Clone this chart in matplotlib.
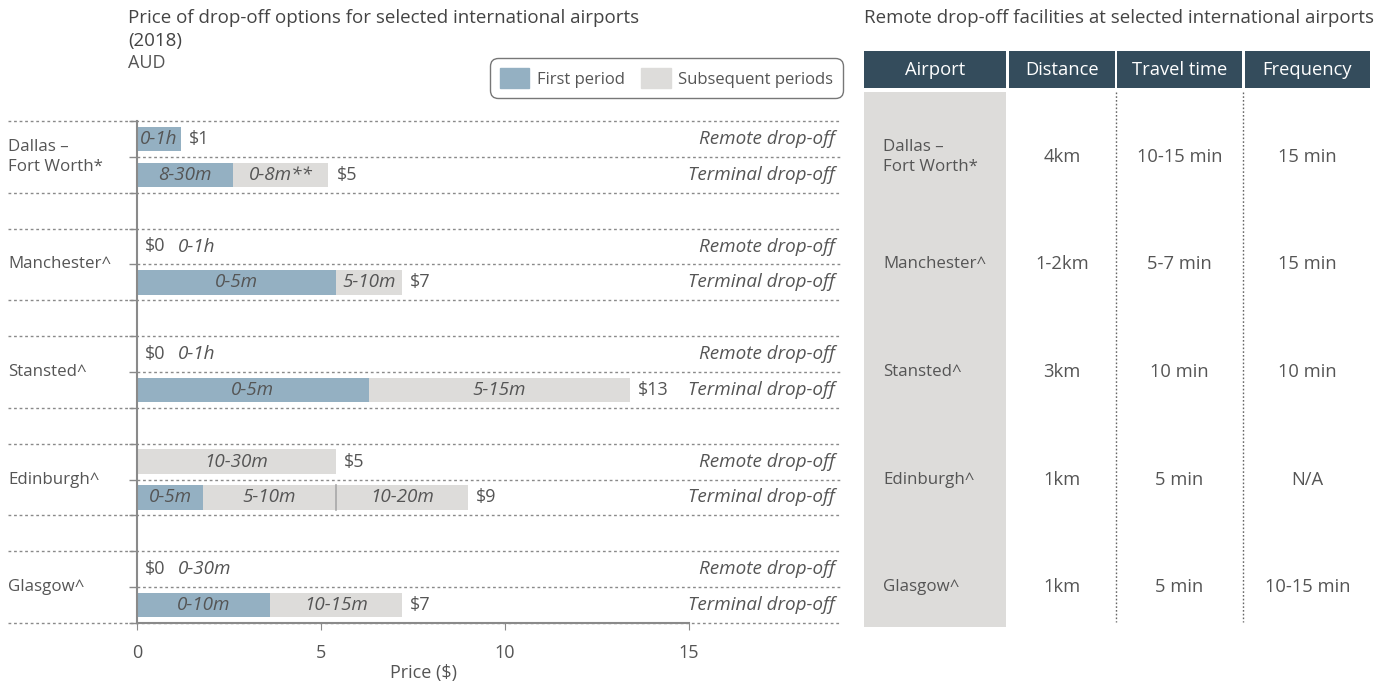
import matplotlib
matplotlib.use('Agg')
import matplotlib.pyplot as plt
import matplotlib.transforms as mtrans
from matplotlib.patches import Patch, Rectangle

plt.rcParams['font.family'] = ['Open Sans', 'DejaVu Sans']
plt.rcParams['font.size'] = 13

# Chart data (AUD)
airports = ['Dallas –\nFort Worth*', 'Manchester^', 'Stansted^', 'Edinburgh^', 'Glasgow^']

# remote drop-off bars
remote_widths = [[1.2], [], [], [5.4], []]
remote_kinds = [['first'], [], [], ['sub'], []]
remote_labels = [['0-1h'], [], [], ['10-30m'], []]
remote_free_period = [None, '0-1h', '0-1h', None, '0-30m']
remote_price = ['$1', '$0', '$0', '$5', '$0']

# terminal drop-off bars
terminal_widths = [[2.6, 2.6], [5.4, 1.8], [6.3, 7.1], [1.8, 3.6, 3.6], [3.6, 3.6]]
terminal_kinds = [['first', 'sub'], ['first', 'sub'], ['first', 'sub'],
                  ['first', 'sub', 'sub'], ['first', 'sub']]
terminal_labels = [['8-30m', '0-8m**'], ['0-5m', '5-10m'], ['0-5m', '5-15m'],
                   ['0-5m', '5-10m', '10-20m'], ['0-10m', '10-15m']]
terminal_price = ['$5', '$7', '$13', '$9', '$7']

# table data
table_cols = ['Airport', 'Distance', 'Travel time', 'Frequency']
distance = ['4km', '1-2km', '3km', '1km', '1km']
travel_time = ['10-15 min', '5-7 min', '10 min', '5 min', '5 min']
frequency = ['15 min', '15 min', '10 min', 'N/A', '10-15 min']

colors = {'first': '#94b0c2', 'sub': '#dddcda'}
txt = '#555555'
line_c = '#8a8a8a'
ital = 13.6
name_fs = 12.2

W, H = 1390, 684
fig = plt.figure(figsize=(W / 100, H / 100), dpi=100)

# main bar chart
ax = fig.add_axes([137 / W, 1 - 623 / H, (840 - 137) / W, 502 / H])
ax.set_xlim(0, 19.1)
ax.set_ylim(14, 0)

bar_h = 0.68


def draw_bar(y, widths, kinds, labels, price, free_period):
    left = 0
    for i, (w, k, lab) in enumerate(zip(widths, kinds, labels)):
        ax.barh(y, w, left=left, height=bar_h, color=colors[k], zorder=2)
        ax.text(left + w / 2, y, lab, ha='center', va='center',
                style='italic', color=txt, zorder=3, fontsize=ital)
        if i > 0 and kinds[i - 1] == k:
            ax.plot([left, left], [y - bar_h / 2, y + bar_h / 2],
                    color='#a8a8a8', lw=1.2, zorder=3)
        left += w
    ax.text(left + 0.22, y, price, ha='left', va='center', color=txt)
    if free_period:
        ax.text(1.1, y, free_period, ha='left', va='center',
                style='italic', color=txt, fontsize=ital)


for i in range(len(airports)):
    top = 3 * i
    y_rem = top + 0.5
    y_term = top + 1.5
    draw_bar(y_rem, remote_widths[i], remote_kinds[i], remote_labels[i],
             remote_price[i], remote_free_period[i])
    draw_bar(y_term, terminal_widths[i], terminal_kinds[i], terminal_labels[i],
             terminal_price[i], None)
    ax.text(18.95, y_rem, 'Remote drop-off', ha='right', va='center',
            style='italic', color=txt, fontsize=ital)
    ax.text(18.95, y_term, 'Terminal drop-off', ha='right', va='center',
            style='italic', color=txt, fontsize=ital)
    # outer separators run under the labels, the middle one starts at the axis
    for yl, x0 in ((top, -3.5), (top + 1, 0), (top + 2, -3.5)):
        ax.plot([x0, 19.1], [yl, yl], color='#8a8a8a', lw=1,
                ls=(0, (2, 2)), clip_on=False, zorder=1)
    ax.text(-3.5, top + 1, airports[i], ha='left', va='center', color=txt,
            linespacing=1.35, fontsize=name_fs)

ax.set_yticks([3 * i + k for i in range(len(airports)) for k in range(3)])
ax.set_yticklabels([])
ax.tick_params(axis='y', length=6, color=line_c, width=1)
ax.set_xticks([0, 5, 10, 15])
ax.tick_params(axis='x', length=5, color=line_c, labelcolor=txt, pad=10,
               labelsize=13)
for s in ('top', 'right'):
    ax.spines[s].set_visible(False)
ax.spines['left'].set_color(line_c)
ax.spines['bottom'].set_color(line_c)
ax.spines['left'].set_linewidth(1.5)
ax.spines['bottom'].set_linewidth(1.5)
ax.spines['bottom'].set_bounds(0, 15)
ax.set_xlabel('Price ($)', color=txt)
ax.xaxis.set_label_coords((423 - 137) / (840 - 137), -0.082)
ax.patch.set_alpha(0)

# legend
handles = [Patch(color=colors['first'], label='First period'),
           Patch(color=colors['sub'], label='Subsequent periods')]
leg = ax.legend(handles=handles, ncol=2, loc='upper right', fontsize=12,
                bbox_to_anchor=(843 / W, 1 - 58 / H), bbox_transform=fig.transFigure,
                frameon=True, fancybox=True, edgecolor='#555555',
                handlelength=1.75, handleheight=1.5, handletextpad=0.45,
                columnspacing=1.0, borderpad=0.6, borderaxespad=0)
leg.get_frame().set_linewidth(1.0)
leg.get_frame().set_boxstyle('round', pad=0, rounding_size=0.5)
for t in leg.get_texts():
    t.set_color(txt)

# titles
title_fs = 13.5
fig.text(128 / W, 1 - 18 / H, 'Price of drop-off options for selected international airports',
         ha='left', va='center', color='#444444', fontsize=title_fs)
fig.text(128 / W, 1 - 41 / H, '(2018)', ha='left', va='center', color='#444444',
         fontsize=title_fs)
fig.text(128 / W, 1 - 63 / H, 'AUD', ha='left', va='center', color=txt, fontsize=13)
fig.text(864 / W, 1 - 18 / H, 'Remote drop-off facilities at selected international airports',
         ha='left', va='center', color='#444444', fontsize=title_fs)

# table, x in pixels, y shared with chart rows
tax = fig.add_axes([0, 0, 1, 1])
tax.set_xlim(0, W)
tax.set_ylim(H, 0)
tax.axis('off')
tax.patch.set_alpha(0)
tr = mtrans.blended_transform_factory(tax.transData, ax.transData)

col_edges = [(864, 1006), (1009, 1115), (1117, 1242), (1245, 1370)]
for (x0, x1), name in zip(col_edges, table_cols):
    tax.add_patch(Rectangle((x0, 51), x1 - x0, 37, color='#344c5c', lw=0))
    tax.text((x0 + x1) / 2, 70, name, ha='center', va='center', color='white',
             fontsize=13.2)

tax.add_patch(Rectangle((864, 92), 1006 - 864, 627 - 92, color=colors['sub'], lw=0))
for xv in (1116, 1243):
    tax.plot([xv, xv], [92, 622], color='#666666', lw=1, ls=(0, (1.2, 1.5)))

for i in range(len(airports)):
    yc = 3 * i + 1
    tax.text(883, yc, airports[i], ha='left', va='center', color=txt,
             transform=tr, linespacing=1.35, fontsize=name_fs)
    for (x0, x1), val in zip(col_edges[1:], (distance[i], travel_time[i], frequency[i])):
        tax.text((x0 + x1) / 2, yc, val, ha='center', va='center', color=txt,
                 transform=tr, fontsize=13.2)

fig.savefig('out.png', dpi=100)
